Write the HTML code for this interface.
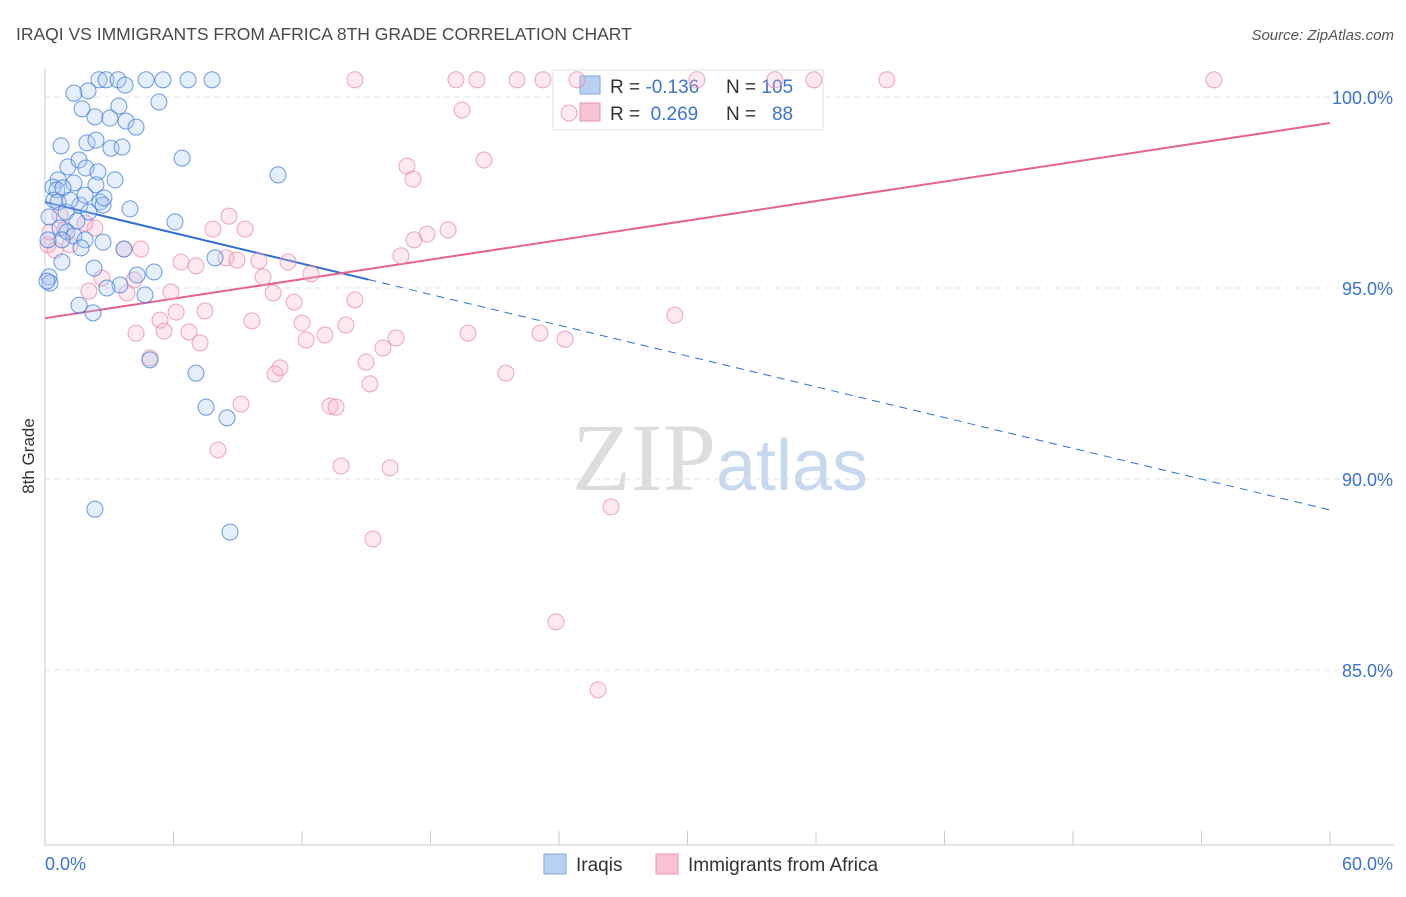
<!DOCTYPE html>
<html><head><meta charset="utf-8"><style>
body{margin:0;background:#fff;font-family:"Liberation Sans",sans-serif;}
</style></head><body>
<svg id="chart" width="1406" height="892" xmlns="http://www.w3.org/2000/svg" font-family="Liberation Sans, sans-serif">
<text x="16" y="40" font-size="17.5" fill="#4a4a4a">IRAQI VS IMMIGRANTS FROM AFRICA 8TH GRADE CORRELATION CHART</text>
<text x="1394" y="40" font-size="15" fill="#555" text-anchor="end" font-style="italic">Source: ZipAtlas.com</text>
<text x="720" y="490" font-size="96" text-anchor="middle"><tspan fill="#ddd" font-family="Liberation Serif, serif">ZIP</tspan><tspan fill="#c8d8ef" font-size="72">atlas</tspan></text>
<text transform="translate(34,456) rotate(-90)" font-size="17" fill="#333" text-anchor="middle">8th Grade</text>
<g id="grid"></g><g id="axes"></g>
<g>
<rect x="553" y="70" width="270" height="60" fill="#fff" stroke="#e0e0e0"/>
<rect x="580" y="76" width="20" height="18" fill="#b8d1f3" stroke="#7aa7e6"/>
<rect x="580" y="103" width="20" height="18" fill="#f7c3d3" stroke="#ee95b2"/>
<text x="610" y="93" font-size="19" fill="#333" xml:space="preserve">R = <tspan fill="#3b73d1">-0.136</tspan></text>
<text x="726" y="93" font-size="19" fill="#333" xml:space="preserve">N = <tspan fill="#3b73d1">105</tspan></text>
<text x="610" y="120" font-size="19" fill="#333" xml:space="preserve">R =  <tspan fill="#3b73d1">0.269</tspan></text>
<text x="726" y="120" font-size="19" fill="#333" xml:space="preserve">N =   <tspan fill="#3b73d1">88</tspan></text>
</g>
<g id="trend"></g><g id="pts"></g>
<g>
<rect x="544" y="854" width="22" height="20" fill="#b8d1f3" stroke="#7aa7e6"/>
<text x="576" y="871" font-size="19" fill="#333">Iraqis</text>
<rect x="656" y="854" width="22" height="20" fill="#f7c3d3" stroke="#ee95b2"/>
<text x="688" y="871" font-size="19" fill="#333">Immigrants from Africa</text>
</g>
</svg>
<script>
const yTicks=[100,95,90,85];
const yTickLabels=["100.0%","95.0%","90.0%","85.0%"];
const xTicks=[0,6,12,18,24,30,36,42,48,54,60];
const blueX=[2.52,2.85,3.41,3.74,4.72,5.51,6.68,7.80,2.01,1.35,5.32,1.73,3.45,2.33,3.03,3.78,4.25,0.75,1.96,2.38,3.08,3.60,6.40,1.07,1.59,1.91,2.47,3.27,10.88,0.61,1.35,2.38,0.37,0.56,0.84,0.42,0.61,2.57,2.71,3.97,1.63,2.05,0.98,0.19,1.49,6.07,0.70,1.03,1.35,1.87,0.79,0.14,2.71,1.68,3.69,7.94,0.79,2.29,4.30,5.09,0.19,0.23,0.09,3.50,2.89,4.67,1.59,2.24,4.90,7.05,7.52,8.50,2.33,8.64,2.75,1.17,1.87];
const blueY=[100.45,100.45,100.45,100.31,100.45,100.45,100.45,100.45,100.16,100.10,99.87,99.69,99.76,99.48,99.45,99.37,99.21,98.72,98.80,98.87,98.66,98.69,98.40,98.17,98.35,98.14,98.04,97.83,97.96,97.83,97.75,97.70,97.64,97.57,97.62,97.30,97.25,97.25,97.17,97.07,97.17,96.99,96.99,96.86,96.75,96.73,96.57,96.47,96.36,96.26,96.26,96.26,96.20,96.05,96.02,95.79,95.68,95.52,95.34,95.42,95.29,95.13,95.18,95.08,95.00,94.82,94.55,94.35,93.12,92.77,91.88,91.60,89.21,88.61,97.36,97.30,97.43];
const pinkX=[14.47,19.19,20.17,22.04,23.25,24.84,30.44,34.08,35.90,39.31,54.58,19.47,24.47,20.50,16.90,17.18,8.59,7.84,9.34,18.82,17.84,17.23,16.62,3.69,4.48,6.35,7.05,8.45,8.96,9.99,11.35,12.42,10.18,2.66,4.16,5.88,2.05,3.83,10.65,11.63,14.47,7.47,9.66,12.00,6.12,5.37,14.05,13.07,12.19,4.25,5.56,6.72,7.24,16.39,15.78,19.75,23.11,24.28,29.41,14.99,10.97,10.74,21.52,4.90,15.17,9.15,13.31,13.59,8.08,13.82,16.11,15.31,26.43,23.86,25.82,0.14,0.47,1.17,2.33,0.70,1.87,0.23,0.93];
const pinkY=[100.45,100.45,100.45,100.45,100.45,100.45,100.45,100.45,100.45,100.45,100.45,99.66,99.58,98.35,98.19,97.85,96.88,96.54,96.54,96.52,96.41,96.26,95.84,96.02,96.02,95.68,95.58,95.79,95.73,95.71,95.68,95.37,95.29,95.26,95.21,94.90,94.92,94.87,94.87,94.63,94.69,94.40,94.14,94.08,94.37,94.16,94.03,93.77,93.64,93.82,93.87,93.85,93.56,93.69,93.43,93.82,93.82,93.66,94.29,93.06,92.91,92.75,92.77,93.17,92.49,91.96,91.91,91.88,90.76,90.34,90.29,88.43,89.27,86.26,84.48,96.13,95.99,96.13,96.57,96.91,96.70,96.47,96.52];
const blueTrend=[97.25,89.19], blueSolidEnd=15.1;
const pinkTrend=[94.21,99.32];
const NS="http://www.w3.org/2000/svg";
const X=v=>45+v/60*1285, Y=v=>97+(100-v)*38.2;
function mk(p,t,a){const e=document.createElementNS(NS,t);for(const k in a)e.setAttribute(k,a[k]);document.getElementById(p).appendChild(e);return e;}
yTicks.forEach((t,i)=>{
 const l=mk('grid','line',{x1:45,x2:1394,y1:Y(t),y2:Y(t),stroke:'#e3e3e3','stroke-dasharray':'5,5'});
 
 
 const tx=mk('axes','text',{x:1393,y:Y(t)+7,'font-size':18,fill:'#3b73d1','text-anchor':'end'});tx.textContent=yTickLabels[i];
 
 
});
mk('axes','line',{x1:45,x2:45,y1:68,y2:845,stroke:'#ccc'});
mk('axes','line',{x1:45,x2:1394,y1:845,y2:845,stroke:'#ccc'});
xTicks.forEach(t=>{const l=mk('axes','line',{x1:X(t),x2:X(t),y1:831,y2:845,stroke:'#ccc'});
 
 });
let a=mk('axes','text',{x:45,y:870,'font-size':18,fill:'#3b73d1'});a.textContent='0.0%';


a=mk('axes','text',{x:1393,y:870,'font-size':18,fill:'#3b73d1','text-anchor':'end'});a.textContent='60.0%';


function pts(xs,ys,fill,stroke,name){xs.forEach((x,i)=>{const c=mk('pts','circle',{cx:X(x),cy:Y(ys[i]),r:8,fill:fill,'fill-opacity':0.3,stroke:stroke,'stroke-opacity':0.75,'stroke-width':1});
 
 });}
pts(pinkX,pinkY,'#f7b5ca','#e889a9','africa-point');
pts(blueX,blueY,'#a9c8f1','#3b7bd9','iraqi-point');
const by=x=>blueTrend[0]+(blueTrend[1]-blueTrend[0])*x/60;
let t1=mk('trend','line',{x1:X(0),y1:Y(by(0)),x2:X(blueSolidEnd),y2:Y(by(blueSolidEnd)),stroke:'#2d6fd6','stroke-width':2});


let t2=mk('trend','line',{x1:X(blueSolidEnd),y1:Y(by(blueSolidEnd)),x2:X(60),y2:Y(by(60)),stroke:'#2d6fd6','stroke-width':1,'stroke-dasharray':'8,6'});


let t3=mk('trend','line',{x1:X(0),y1:Y(pinkTrend[0]),x2:X(60),y2:Y(pinkTrend[1]),stroke:'#e6628f','stroke-width':2});


</script>
</body></html>
